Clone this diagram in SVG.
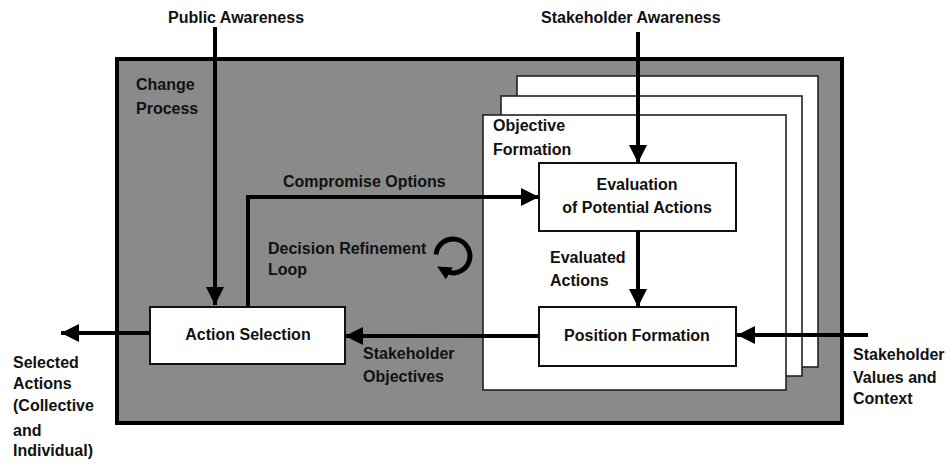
<svg xmlns="http://www.w3.org/2000/svg" width="950" height="464" viewBox="0 0 950 464">
  <style>
    text { font-family: "Liberation Sans", Arial, Helvetica, sans-serif; font-weight: bold; font-size: 16px; fill: #111; }
    .mid { text-anchor: middle; }
    .page { fill: #fff; stroke: #222; stroke-width: 1.6; }
    .box { fill: #fff; stroke: #111; stroke-width: 2; }
    .wire { fill: none; stroke: #000; stroke-width: 4; }
  </style>
  <defs>
    <marker id="head" viewBox="0 0 10 10" refX="10" refY="5" markerUnits="userSpaceOnUse" markerWidth="18" markerHeight="19" orient="auto">
      <path d="M0,0 L10,5 L0,10 Z" fill="#000"/>
    </marker>
    <marker id="loophead" viewBox="0 0 10 10" refX="4" refY="5" markerUnits="userSpaceOnUse" markerWidth="14" markerHeight="15" orient="auto">
      <path d="M0,0 L10,5 L0,10 Z" fill="#000"/>
    </marker>
  </defs>

  <rect width="950" height="464" fill="#fff"/>

  <!-- Change process container -->
  <g id="change-process">
    <rect x="117" y="59" width="725" height="364" fill="#8a8a8a" stroke="#000" stroke-width="4"/>
    <text x="136" y="90">Change</text>
    <text x="136" y="114">Process</text>
  </g>

  <!-- Stacked objective formation sheets -->
  <g id="objective-formation">
    <rect class="page" x="517" y="76" width="301" height="291"/>
    <rect class="page" x="501" y="96" width="301" height="280"/>
    <rect class="page" x="483" y="115" width="303" height="275"/>
    <text x="493" y="131">Objective</text>
    <text x="493" y="155">Formation</text>
  </g>

  <g id="evaluation">
    <rect class="box" x="539" y="163" width="197" height="68"/>
    <text class="mid" x="637" y="190">Evaluation</text>
    <text class="mid" x="637" y="213">of Potential Actions</text>
  </g>

  <g id="position-formation">
    <rect class="box" x="539" y="307" width="197" height="59"/>
    <text class="mid" x="637" y="341">Position Formation</text>
  </g>

  <g id="action-selection">
    <rect class="box" x="150" y="307" width="195" height="57"/>
    <text class="mid" x="248" y="340">Action Selection</text>
  </g>

  <g id="refinement-loop">
    <text x="268" y="254">Decision Refinement</text>
    <text x="268" y="275">Loop</text>
    <path d="M436,254.5 A17,17 0 1 1 444.5,270.7" fill="none" stroke="#000" stroke-width="5" marker-end="url(#loophead)"/>
  </g>

  <!-- Flows between the stages -->
  <g id="connectors">
    <path class="wire" d="M215,27 V305" marker-end="url(#head)"/>
    <path class="wire" d="M638,32 V163" marker-end="url(#head)"/>
    <path class="wire" d="M248,307 V197 H539" marker-end="url(#head)"/>
    <path class="wire" d="M638,231 V307" marker-end="url(#head)"/>
    <path class="wire" d="M868,335 H737" marker-end="url(#head)"/>
    <path class="wire" d="M539,336 H345" marker-end="url(#head)"/>
    <path class="wire" d="M150,333 H61" marker-end="url(#head)"/>
  </g>

  <!-- Flow labels -->
  <g id="labels">
    <text x="168" y="23">Public Awareness</text>
    <text x="541" y="23">Stakeholder Awareness</text>
    <text x="283" y="187">Compromise Options</text>
    <text x="550" y="263">Evaluated</text>
    <text x="550" y="286">Actions</text>
    <text x="363" y="359">Stakeholder</text>
    <text x="363" y="382">Objectives</text>
    <text x="853" y="360">Stakeholder</text>
    <text x="853" y="383">Values and</text>
    <text x="853" y="404">Context</text>
    <text x="13" y="368">Selected</text>
    <text x="13" y="389">Actions</text>
    <text x="13" y="411">(Collective</text>
    <text x="13" y="436">and</text>
    <text x="13" y="456">Individual)</text>
  </g>
</svg>
